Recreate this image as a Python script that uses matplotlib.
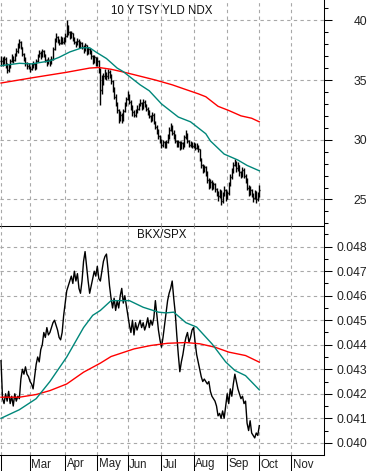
import matplotlib
matplotlib.use("Agg")
import matplotlib.pyplot as plt
import matplotlib.transforms as mtransforms
from matplotlib.ticker import MultipleLocator, FixedLocator
import numpy as np

plt.rcParams['font.family'] = ['Liberation Sans', 'DejaVu Sans']

# ---------------- data (trading-day index from Feb 1) ----------------
month_labels = ["Feb", "Mar", "Apr", "May", "Jun", "Jul", "Aug", "Sep", "Oct", "Nov"]
month_starts = [0, 19, 42, 63, 83, 105, 126, 148, 169, 190]

tsy_close = [
    36.6, 36.5, 36.8, 36.3, 35.8, 36.1, 36.6, 36.9, 36.7, 37.1,
    37.4, 37.8, 38.2, 37.8, 37.2, 36.8, 36.4, 36.2, 36.1, 35.9,
    36.2, 36.3, 36.0, 36.6, 37.0, 37.3, 37.0, 37.4, 37.1, 36.7,
    36.4, 36.7, 36.4, 36.8, 37.6, 38.3, 38.6, 38.3, 38.1, 38.5,
    38.2, 38.3, 38.7, 39.5, 39.0, 38.6, 38.9, 38.5, 38.2, 38.0,
    38.3, 37.9, 38.1, 37.8, 37.5, 37.9, 37.3, 37.6, 37.4, 37.0,
    36.6, 36.9, 36.4, 36.6, 35.9, 34.2, 34.8, 35.3, 35.6, 35.3,
    35.7, 35.4, 34.9, 34.3, 33.6, 33.0, 32.5, 31.9, 32.1, 31.7,
    32.4, 32.9, 33.4, 33.7, 33.2, 32.8, 32.3, 32.1, 32.4, 32.6,
    32.9, 33.1, 32.7, 33.2, 32.9, 32.6, 32.4, 32.0, 31.7, 32.1,
    31.5, 31.1, 30.7, 30.3, 29.9, 29.6, 29.8, 29.5, 29.8, 30.2,
    30.8, 31.1, 30.6, 30.4, 29.9, 29.6, 29.8, 29.4, 29.7, 29.5,
    30.2, 30.5, 29.9, 29.6, 29.7, 29.5, 29.6, 29.3, 29.5, 29.2,
    28.4, 27.9, 27.5, 27.7, 27.3, 26.6, 26.2, 26.5, 26.0, 26.3,
    25.9, 25.6, 25.3, 25.7, 24.9, 25.4, 25.8, 25.1, 25.5, 26.3,
    26.9, 27.4, 27.9, 28.1, 27.6, 27.9, 27.3, 27.1, 27.5, 27.0,
    26.7, 26.0, 25.6, 25.8, 25.4, 25.1, 25.6, 25.0, 25.4, 25.8,
]
tsy_high = [
    37.0, 36.9, 37.0, 36.9, 36.4, 36.3, 36.8, 37.2, 37.0, 37.3,
    37.7, 38.1, 38.4, 38.3, 37.8, 37.3, 36.9, 36.5, 36.4, 36.2,
    36.4, 36.6, 36.4, 36.8, 37.2, 37.5, 37.4, 37.6, 37.5, 37.2,
    36.8, 36.9, 36.8, 37.0, 37.8, 38.5, 38.9, 38.7, 38.4, 38.7,
    38.6, 38.6, 38.9, 40.0, 39.6, 39.1, 39.1, 38.9, 38.6, 38.3,
    38.5, 38.4, 38.3, 38.2, 37.9, 38.1, 37.9, 37.8, 37.7, 37.5,
    37.1, 37.1, 36.9, 36.9, 36.7, 36.0, 35.4, 35.6, 35.9, 35.7,
    35.9, 35.8, 35.5, 35.0, 34.4, 33.8, 33.2, 32.6, 32.4, 32.2,
    32.6, 33.2, 33.6, 34.1, 33.8, 33.3, 32.9, 32.5, 32.6, 32.9,
    33.1, 33.4, 33.2, 33.4, 33.3, 33.0, 32.7, 32.5, 32.1, 32.3,
    32.2, 31.6, 31.2, 30.9, 30.4, 30.1, 30.0, 29.9, 30.0, 30.5,
    31.1, 31.4, 31.2, 30.8, 30.5, 30.0, 30.0, 29.9, 29.9, 29.8,
    30.4, 30.8, 30.6, 30.0, 29.9, 29.8, 29.8, 29.7, 29.7, 29.6,
    29.2, 28.5, 28.0, 27.9, 27.8, 27.4, 26.8, 26.7, 26.6, 26.5,
    26.4, 26.0, 25.7, 25.9, 25.8, 25.6, 26.1, 25.9, 25.7, 26.5,
    27.1, 27.6, 28.1, 28.4, 28.2, 28.1, 27.9, 27.4, 27.7, 27.6,
    27.1, 26.8, 26.2, 26.1, 25.9, 25.5, 25.8, 25.7, 25.6, 26.2,
]
tsy_low = [
    36.2, 36.2, 36.3, 36.0, 35.6, 35.7, 36.0, 36.5, 36.4, 36.6,
    37.0, 37.3, 37.7, 37.6, 37.0, 36.6, 36.2, 35.9, 35.9, 35.7,
    35.8, 36.0, 35.8, 35.9, 36.5, 36.9, 36.8, 36.9, 36.9, 36.5,
    36.2, 36.3, 36.2, 36.3, 36.7, 37.5, 38.2, 38.1, 37.9, 38.0,
    38.0, 38.0, 38.2, 38.6, 38.8, 38.4, 38.5, 38.3, 38.0, 37.8,
    37.9, 37.7, 37.7, 37.6, 37.3, 37.4, 37.1, 37.2, 37.2, 36.8,
    36.3, 36.4, 36.2, 36.2, 35.6, 32.9, 33.8, 34.6, 35.1, 35.0,
    35.1, 35.2, 34.7, 34.0, 33.4, 32.8, 32.2, 31.4, 31.6, 31.4,
    31.6, 32.3, 32.8, 33.3, 33.0, 32.5, 32.0, 31.9, 31.9, 32.2,
    32.5, 32.8, 32.5, 32.6, 32.7, 32.4, 32.1, 31.8, 31.5, 31.6,
    31.3, 30.9, 30.5, 30.1, 29.7, 29.3, 29.4, 29.3, 29.3, 29.7,
    30.1, 30.7, 30.4, 30.1, 29.7, 29.4, 29.4, 29.1, 29.2, 29.2,
    29.4, 30.1, 29.7, 29.4, 29.4, 29.3, 29.3, 29.1, 29.2, 29.0,
    28.2, 27.6, 27.2, 27.3, 27.0, 26.4, 25.9, 26.0, 25.8, 25.9,
    25.6, 25.3, 24.9, 25.1, 24.5, 24.7, 25.3, 24.9, 25.0, 25.4,
    26.1, 26.7, 27.2, 27.8, 27.3, 27.4, 27.0, 26.8, 26.9, 26.8,
    26.4, 25.8, 25.3, 25.4, 25.2, 24.8, 25.0, 24.7, 24.9, 25.2,
]
# moving averages read at sample days (day index, value)
tsy_ma50_day = [0, 12, 20, 32, 38, 45, 53, 58, 62, 69, 76, 80, 91, 97, 105, 116, 124, 127, 134, 137, 146, 155, 161, 169]
tsy_ma50_val = [36.2, 36.4, 36.35, 36.6, 36.9, 37.35, 37.7, 37.7, 37.35, 36.8, 36.0, 35.7, 34.6, 34.1, 33.0, 31.9, 31.5, 31.2, 30.5, 29.9, 28.8, 28.3, 27.85, 27.4]
tsy_ma200_day = [0, 21, 43, 58, 64, 72, 79, 87, 101, 112, 121, 129, 134, 142, 149, 157, 164, 169]
tsy_ma200_val = [34.75, 35.2, 35.65, 36.0, 36.05, 35.9, 35.7, 35.45, 35.0, 34.6, 34.2, 33.85, 33.6, 32.8, 32.45, 32.0, 31.8, 31.5]

bkx_spx = [
    0.04335, 0.0418, 0.0416, 0.0420, 0.0417, 0.0421, 0.0416, 0.0419, 0.0415, 0.0420,
    0.0417, 0.0419, 0.0418, 0.0426, 0.0430, 0.0428, 0.0431, 0.0428, 0.0427, 0.0425,
    0.0424, 0.0422, 0.0427, 0.0432, 0.0435, 0.0433, 0.0438, 0.0440, 0.0445, 0.0443,
    0.0447, 0.0444, 0.0445, 0.0447, 0.0449, 0.0450, 0.0448, 0.0446, 0.0443, 0.0442,
    0.0445, 0.0452, 0.0457, 0.0462, 0.0464, 0.0466, 0.0468, 0.0465, 0.0470, 0.0466,
    0.0469, 0.0463, 0.0461, 0.0466, 0.0474, 0.0478, 0.0472, 0.0466, 0.0461, 0.0464,
    0.0467, 0.0470, 0.0468, 0.0472, 0.0467, 0.0466, 0.0470, 0.0474, 0.0476, 0.0477,
    0.0471, 0.0464, 0.0459, 0.0455, 0.0459, 0.0454, 0.0458, 0.0455, 0.0460, 0.0463,
    0.0457, 0.0460, 0.0456, 0.0452, 0.0448, 0.0445, 0.0450, 0.0444, 0.0449, 0.0446,
    0.0448, 0.0450, 0.0447, 0.0449, 0.0446, 0.0448, 0.0451, 0.0447, 0.0450, 0.0448,
    0.0451, 0.0458, 0.0452, 0.0446, 0.0442, 0.0439, 0.0443, 0.0448, 0.0453, 0.0458,
    0.0461, 0.0463, 0.0466, 0.0459, 0.0453, 0.0444, 0.0436, 0.0429, 0.0433, 0.0436,
    0.0440, 0.0443, 0.0445, 0.0441, 0.0443, 0.0446, 0.0447, 0.0441, 0.0436, 0.0433,
    0.0430, 0.0427, 0.0425, 0.0426, 0.0425, 0.0424, 0.0425, 0.0421, 0.0419, 0.0418,
    0.0417, 0.0415, 0.0411, 0.0412, 0.0410, 0.0413, 0.0410, 0.0415, 0.0420, 0.0416,
    0.0422, 0.0419, 0.0424, 0.0428, 0.0425, 0.0422, 0.0420, 0.0418, 0.0419, 0.0416,
    0.0417, 0.0408, 0.0405, 0.0409, 0.0404, 0.0403, 0.0402, 0.0404, 0.0403, 0.0407,
]
bkx_ma50_day = [0, 12, 23, 32, 43, 54, 60, 65, 72, 84, 93, 103, 108, 113, 121, 128, 138, 147, 153, 160, 169]
bkx_ma50_val = [0.0410, 0.04135, 0.0418, 0.0425, 0.0435, 0.0447, 0.0452, 0.0454, 0.0458, 0.0458, 0.04553, 0.04533, 0.0453, 0.04533, 0.0449, 0.04472, 0.04404, 0.0433, 0.04295, 0.04274, 0.04216]
bkx_ma200_day = [0, 12, 23, 32, 43, 54, 65, 72, 87, 98, 109, 121, 130, 140, 149, 160, 169]
bkx_ma200_val = [0.04186, 0.04186, 0.04197, 0.04213, 0.0424, 0.04288, 0.04325, 0.04352, 0.04383, 0.04397, 0.04406, 0.04409, 0.04404, 0.0439, 0.0437, 0.04356, 0.04329]

top_title = "10 Y TSY YLD NDX"
bot_title = "BKX/SPX"

# ---------------- style ----------------
W, H = 371, 471
DPI = 100
RIGHT_PX = 323.5
SEP_PX = 225.5
BOT_PX = 454.5
TEAL = "#00877a"
RED = "#ff0000"
GRID = dict(color="#a8a8a8", linestyle=(0, (3, 3)), linewidth=0.8)
LABEL_COLOR = "#222222"
XLIM = (-0.66, 211)

fig = plt.figure(figsize=(W / DPI, H / DPI), dpi=DPI)
fig.patch.set_facecolor("white")
ax1 = fig.add_axes([0, 1 - SEP_PX / H, RIGHT_PX / W, SEP_PX / H])
ax2 = fig.add_axes([0, 1 - BOT_PX / H, RIGHT_PX / W, (BOT_PX - SEP_PX) / H])
for a in (ax1, ax2):
    a.patch.set_facecolor("none")


def style_axis(ax, major, minor, fmt):
    ax.set_xlim(*XLIM)
    for s in ("top", "left"):
        ax.spines[s].set_visible(False)
    for s in ("right", "bottom"):
        ax.spines[s].set_color("black")
        ax.spines[s].set_linewidth(0.75)
        ax.spines[s].set_zorder(5)
    ax.yaxis.tick_right()
    ax.yaxis.set_major_locator(MultipleLocator(major))
    ax.yaxis.set_minor_locator(MultipleLocator(minor))
    ax.yaxis.set_major_formatter(fmt)
    ax.tick_params(axis="y", which="major", length=6, width=0.75, pad=25.5,
                   labelsize=8.7, labelcolor=LABEL_COLOR, direction="out")
    ax.tick_params(axis="y", which="minor", length=3, width=0.75, direction="out")
    for lab in ax.get_yticklabels():
        lab.set_horizontalalignment("right")
    ax.xaxis.set_major_locator(FixedLocator(month_starts))
    ax.grid(True, which="major", axis="both", **GRID)
    ax.set_axisbelow(True)


x_all = np.arange(len(tsy_close))

# ---- top panel: OHLC bars ----
ax1.set_ylim(22.82, 41.70)
style_axis(ax1, 5, 1, matplotlib.ticker.FuncFormatter(lambda v, p: f"{v:.0f}"))
ax1.tick_params(axis="x", which="both", length=0, labelbottom=False)
opens = [tsy_close[0]] + tsy_close[:-1]
ax1.vlines(x_all, tsy_low, tsy_high, color="black", linewidth=1.0)
ax1.hlines(tsy_close, x_all, x_all + 0.55, color="black", linewidth=1.0)
ax1.hlines(opens, x_all - 0.55, x_all, color="black", linewidth=1.0)
ax1.plot(tsy_ma200_day, tsy_ma200_val, color=RED, linewidth=1.0)
ax1.plot(tsy_ma50_day, tsy_ma50_val, color=TEAL, linewidth=1.0)
ax1.text(0.5, 1 - 11 / SEP_PX, top_title, transform=ax1.transAxes, ha="center",
         va="center", fontsize=8.3, color="#111111")

# ---- bottom panel: ratio line ----
ax2.set_ylim(0.039523, 0.048865)
style_axis(ax2, 0.001, 0.0005, matplotlib.ticker.FuncFormatter(lambda v, p: f"{v:.3f}"))
ax2.plot(x_all, bkx_spx, color="black", linewidth=1.0)
ax2.plot(bkx_ma200_day, bkx_ma200_val, color=RED, linewidth=1.0)
ax2.plot(bkx_ma50_day, bkx_ma50_val, color=TEAL, linewidth=1.0)
ax2.text(0.5, 1 - 9 / (BOT_PX - SEP_PX), bot_title, transform=ax2.transAxes, ha="center",
         va="center", fontsize=8.3, color="#111111")
ax2.tick_params(axis="x", which="major", length=12.5, width=0.75, direction="out",
                labelbottom=False)
trans = mtransforms.blended_transform_factory(ax2.transData, ax2.transAxes)
for lab, pos in zip(month_labels, month_starts):
    if lab == "Feb":
        continue
    ax2.text(pos + 0.9, -10 / (BOT_PX - SEP_PX), lab, transform=trans, ha="left",
             va="center", fontsize=8.3, color=LABEL_COLOR)

fig.savefig("out.png", dpi=DPI, facecolor="white")
